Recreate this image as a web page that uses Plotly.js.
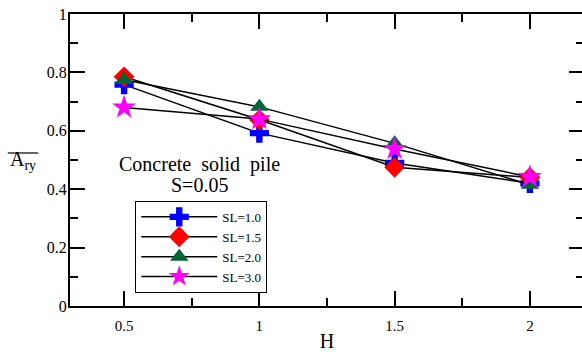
<!DOCTYPE html>
<html>
<head>
<meta charset="utf-8">
<script src="https://cdn.plot.ly/plotly-3.0.1.min.js"></script>
<style>
  html, body { margin: 0; padding: 0; background: #fff; overflow: hidden; }
  #chart { width: 590px; height: 352px; }
</style>
</head>
<body>
<div id="chart"></div>
<script>
// Pile depth ratio H and the response ratio for each slenderness SL
const H = [0.5, 1, 1.5, 2];
const sl10 = [0.758, 0.592, 0.490, 0.420];
const sl15 = [0.785, 0.638, 0.475, 0.440];
const sl20 = [0.775, 0.682, 0.557, 0.415];
const sl30 = [0.680, 0.640, 0.538, 0.442];
const seriesNames = ['SL=1.0', 'SL=1.5', 'SL=2.0', 'SL=3.0'];
const xTicks = [0.5, 1, 1.5, 2];
const xTickText = ['0.5', '1', '1.5', '2'];
const yTicks = [0, 0.2, 0.4, 0.6, 0.8, 1];
const yTickText = ['0', '0.2', '0.4', '0.6', '0.8', '1'];

const serif = '"Liberation Serif", serif';

const styles = [
  { symbol: 'cross', color: '#0000ff', size: 16 },
  { symbol: 'diamond', color: '#ff0000', size: 16 },
  { symbol: 'triangle-up', color: '#006633', size: 16 },
  { symbol: 'star', color: '#ff00ff', size: 18 }
];

const traces = [sl10, sl15, sl20, sl30].map((ys, i) => ({
  x: H,
  y: ys,
  name: seriesNames[i],
  type: 'scatter',
  mode: 'lines+markers',
  line: { color: '#000', width: 1.5 },
  marker: { symbol: styles[i].symbol, color: styles[i].color, size: styles[i].size, line: { width: 0 } }
}));

const axisCommon = {
  showline: true,
  linecolor: '#000',
  linewidth: 2,
  mirror: 'ticks',
  ticks: 'inside',
  ticklen: 15,
  tickwidth: 2,
  tickcolor: '#000',
  showgrid: false,
  zeroline: false
};

const layout = {
  width: 590,
  height: 352,
  margin: { l: 70, r: 6, t: 14, b: 46 },
  paper_bgcolor: '#fff',
  plot_bgcolor: '#fff',
  font: { family: serif, color: '#000' },
  showlegend: true,
  legend: {
    x: 0.127, y: 0.36, xanchor: 'left', yanchor: 'top',
    bordercolor: '#000', borderwidth: 1, bgcolor: '#fff',
    font: { family: serif, size: 13, color: '#000' },
    itemwidth: 76
  },
  xaxis: Object.assign({}, axisCommon, {
    range: [0.3, 2.2],
    tickmode: 'array', tickvals: xTicks, ticktext: xTickText,
    tickfont: { family: serif, size: 15 },
    ticklabelstandoff: 5,
    minor: { dtick: 0.25, tick0: 0.25, ticks: 'inside', ticklen: 8, tickwidth: 2, tickcolor: '#000', showgrid: false },
    title: { text: 'H', font: { family: serif, size: 20 }, standoff: 7 }
  }),
  yaxis: Object.assign({}, axisCommon, {
    range: [0, 1],
    tickmode: 'array', tickvals: yTicks, ticktext: yTickText,
    tickfont: { family: serif, size: 16 },
    ticklabelstandoff: -2,
    minor: { dtick: 0.1, tick0: 0, ticks: 'inside', ticklen: 8, tickwidth: 2, tickcolor: '#000', showgrid: false }
  }),
  annotations: [
    {
      xref: 'paper', yref: 'paper', x: -0.092, y: 0.5,
      xanchor: 'center', yanchor: 'middle', showarrow: false,
      text: 'A<sub>ry</sub>', font: { family: serif, size: 20, color: '#000' }
    },
    {
      xref: 'paper', yref: 'paper', x: 0.251, y: 0.483,
      xanchor: 'center', yanchor: 'middle', showarrow: false,
      text: 'Concrete&nbsp; solid&nbsp; pile', font: { family: serif, size: 20, color: '#000' }
    },
    {
      xref: 'paper', yref: 'paper', x: 0.251, y: 0.414,
      xanchor: 'center', yanchor: 'middle', showarrow: false,
      text: 'S=0.05', font: { family: serif, size: 20, color: '#000' }
    }
  ],
  shapes: [
    // overline above the y-axis symbol
    { type: 'line', xref: 'paper', yref: 'paper', x0: -0.121, x1: -0.062, y0: 0.524, y1: 0.524,
      line: { color: '#000', width: 1.2 } }
  ]
};

Plotly.newPlot('chart', traces, layout, { displayModeBar: false, staticPlot: true });
</script>
</body>
</html>
